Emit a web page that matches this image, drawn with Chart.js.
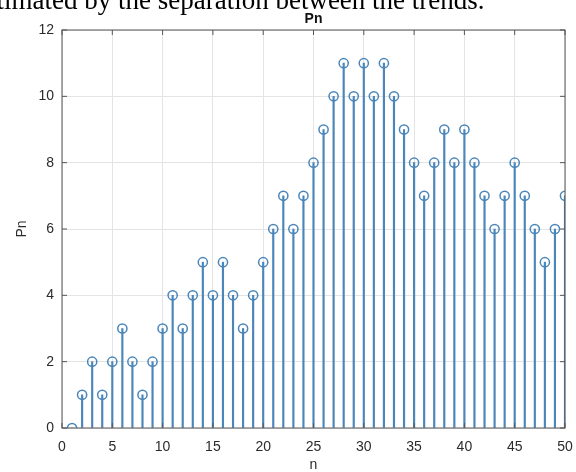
<!DOCTYPE html>
<html>
<head>
<meta charset="utf-8">
<script src="https://cdn.jsdelivr.net/npm/chart.js@4/dist/chart.umd.min.js"></script>
<style>
  html, body { margin: 0; padding: 0; background: #fff; }
  #wrap { position: relative; width: 576px; height: 472px; overflow: hidden; }
  canvas { position: absolute; left: 0; top: 0; }
  #caption {
    position: absolute; left: -26px; top: -13.1px;
    font: 27px/27px "Liberation Serif", "Times New Roman", serif;
    color: #000; white-space: nowrap;
  }
</style>
</head>
<body>
<div id="wrap">
  <canvas id="c" width="576" height="472"></canvas>
  <div id="caption">estimated by the separation between the trends.</div>
</div>
<script>
// sample index n and the value Pn at each index
const n  = [1, 2, 3, 4, 5, 6, 7, 8, 9, 10,
            11, 12, 13, 14, 15, 16, 17, 18, 19, 20,
            21, 22, 23, 24, 25, 26, 27, 28, 29, 30,
            31, 32, 33, 34, 35, 36, 37, 38, 39, 40,
            41, 42, 43, 44, 45, 46, 47, 48, 49, 50];
const Pn = [0, 1, 2, 1, 2, 3, 2, 1, 2, 3,
            4, 3, 4, 5, 4, 5, 4, 3, 4, 5,
            6, 7, 6, 7, 8, 9, 10, 11, 10, 11,
            10, 11, 10, 9, 8, 7, 8, 9, 8, 9,
            8, 7, 6, 7, 8, 7, 6, 5, 6, 7];
const xTicks = [0, 5, 10, 15, 20, 25, 30, 35, 40, 45, 50];
const yTicks = [0, 2, 4, 6, 8, 10, 12];

const stemColor = '#4a86ba';
const axisColor = '#555555';
const textColor = '#2b2b2b';
const gridColor = '#e4e4e4';
const fontFamily = '"Liberation Sans", Arial, Helvetica, sans-serif';

const points = n.map((v, i) => ({ x: v, y: Pn[i] }));

// axes box with inward tick marks on all four sides
const frame = {
  id: 'frame',
  afterDatasetsDraw(chart) {
    const { ctx, chartArea: a, scales: { x, y } } = chart;
    const len = 5;
    ctx.save();
    ctx.strokeStyle = axisColor;
    ctx.lineWidth = 1;
    ctx.strokeRect(a.left, a.top, a.right - a.left, a.bottom - a.top);
    ctx.beginPath();
    xTicks.forEach(v => {
      const px = x.getPixelForValue(v);
      ctx.moveTo(px, a.bottom); ctx.lineTo(px, a.bottom - len);
      ctx.moveTo(px, a.top);    ctx.lineTo(px, a.top + len);
    });
    yTicks.forEach(v => {
      const py = y.getPixelForValue(v);
      ctx.moveTo(a.left, py);  ctx.lineTo(a.left + len, py);
      ctx.moveTo(a.right, py); ctx.lineTo(a.right - len, py);
    });
    ctx.stroke();
    ctx.restore();
  }
};

new Chart(document.getElementById('c'), {
  type: 'bar',
  data: {
    datasets: [
      {
        type: 'bar',
        data: points,
        backgroundColor: stemColor,
        borderWidth: 0,
        barThickness: 1.5,
        order: 2
      },
      {
        type: 'line',
        data: points,
        showLine: false,
        pointStyle: 'circle',
        pointRadius: 4.6,
        pointBorderWidth: 1.5,
        pointBorderColor: stemColor,
        pointBackgroundColor: 'rgba(0,0,0,0)',
        order: 1
      }
    ]
  },
  options: {
    responsive: false,
    animation: false,
    events: [],
    layout: { padding: { left: 0, right: 11, top: 0, bottom: 0 } },
    plugins: {
      legend: { display: false },
      tooltip: { enabled: false },
      title: {
        display: true,
        text: 'Pn',
        fullSize: false,
        color: '#111',
        font: { family: fontFamily, size: 14, weight: 'bold' },
        padding: { top: 11.1, bottom: 2.1 }
      }
    },
    scales: {
      x: {
        type: 'linear',
        min: 0, max: 50,
        offset: false,
        afterBuildTicks: s => { s.ticks = xTicks.map(v => ({ value: v })); },
        afterFit: s => { s.height = 44; s.paddingLeft = 0; s.paddingRight = 0; },
        grid: { color: gridColor, drawTicks: false, offset: false },
        border: { display: false },
        ticks: { color: textColor, font: { family: fontFamily, size: 14 }, padding: 11, maxRotation: 0 },
        title: { display: true, text: 'n', color: textColor, font: { family: fontFamily, size: 14, lineHeight: 1 }, padding: { top: -3, bottom: 0 } }
      },
      y: {
        min: 0, max: 12,
        afterBuildTicks: s => { s.ticks = yTicks.map(v => ({ value: v })); },
        afterFit: s => { s.width = 62; },
        grid: { color: gridColor, drawTicks: false },
        border: { display: false },
        ticks: { color: textColor, font: { family: fontFamily, size: 14 }, padding: 8 },
        title: { display: true, text: 'Pn', color: textColor, font: { family: fontFamily, size: 14 }, padding: { top: 13.6, bottom: 0 } }
      }
    }
  },
  plugins: [frame]
});
</script>
</body>
</html>
